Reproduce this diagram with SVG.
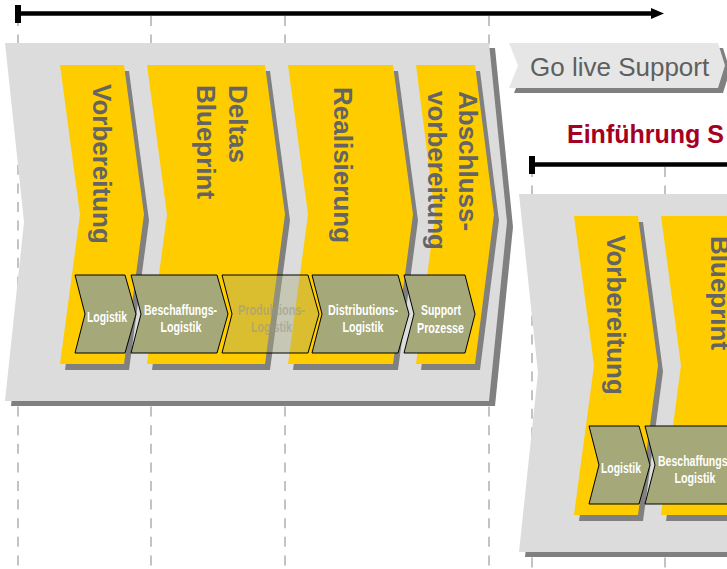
<svg xmlns="http://www.w3.org/2000/svg" xmlns:xlink="http://www.w3.org/1999/xlink" width="727" height="569" viewBox="0 0 727 569">
  <style>
    .dash { stroke: #c3c3c3; stroke-width: 2; stroke-dasharray: 10 8.6; fill: none; }
    .tl { stroke: #000; stroke-width: 4.5; fill: none; }
    .panel { fill: #dcdcdc; }
    .shadow { fill: #808080; }
    .phase { fill: #ffcc00; }
    .ptext { font-family: "Liberation Sans", Arial, sans-serif; font-weight: bold; font-size: 26px; fill: #646464; }
    .proc { fill: #a5a878; stroke: #000; stroke-width: 1; }
    .proc-faded { fill: #a5a878; fill-opacity: 0.4; stroke: #000; stroke-width: 1; }
    .ctext { font-family: "Liberation Sans", Arial, sans-serif; font-weight: bold; font-size: 14px; fill: #ffffff; text-anchor: middle; }
    .ctext-faded { font-family: "Liberation Sans", Arial, sans-serif; font-weight: bold; font-size: 14px; fill: #9a9a86; fill-opacity: 0.6; text-anchor: middle; }
    .golive { fill: #e6e6e6; }
    .gltext { font-family: "Liberation Sans", Arial, sans-serif; font-size: 26px; fill: #5f5f5f; }
    .title { font-family: "Liberation Sans", Arial, sans-serif; font-weight: bold; font-size: 25px; fill: #a50021; }
  </style>
  <defs>
    <marker id="arrow" viewBox="0 0 13 11" refX="0" refY="5.5" markerWidth="13" markerHeight="11" markerUnits="userSpaceOnUse" orient="auto">
      <path d="M0,0 L13,5.5 L0,11 z" fill="#000"/>
    </marker>
  </defs>

  <g id="set1">
    <g id="connectors">
      <line class="dash" x1="18" y1="16" x2="18" y2="569"/>
      <line class="dash" x1="151" y1="16" x2="151" y2="569"/>
      <line class="dash" x1="285" y1="16" x2="285" y2="569"/>
      <line class="dash" x1="489" y1="16" x2="489" y2="569"/>
      <rect x="15" y="5" width="6" height="18" fill="#000"/>
      <line class="tl" x1="18" y1="13.5" x2="651" y2="13.5" marker-end="url(#arrow)"/>
    </g>

    <g id="panel">
      <polygon class="shadow" points="11,48 495,48 513,227 495,406 11,406 30,227"/>
      <polygon class="panel" points="5,43 489,43 507,222 489,401 5,401 24,222"/>
    </g>

    <g id="phase-vorbereitung">
      <polygon class="shadow" points="65,71 129,71 149,220.5 129,370 65,370 85,220.5"/>
      <polygon class="phase" points="60,65 124,65 144,214.5 124,364 60,364 80,214.5"/>
      <text class="ptext" transform="translate(93,84) rotate(90)">Vorbereitung</text>
    </g>

    <g id="phase-deltas-blueprint">
      <polygon class="shadow" points="152,71 270,71 290,220.5 270,370 152,370 172,220.5"/>
      <polygon class="phase" points="147,65 265,65 285,214.5 265,364 147,364 167,214.5"/>
      <text class="ptext" transform="translate(229,85) rotate(90)">Deltas</text>
      <text class="ptext" transform="translate(197,85) rotate(90)">Blueprint</text>
    </g>

    <g id="phase-realisierung">
      <polygon class="shadow" points="293,71 398,71 418,220.5 398,370 293,370 313,220.5"/>
      <polygon class="phase" points="288,65 393,65 413,214.5 393,364 288,364 308,214.5"/>
      <text class="ptext" transform="translate(334,87) rotate(90)">Realisierung</text>
    </g>

    <g id="phase-abschlussvorbereitung">
      <polygon class="shadow" points="421,71 480,71 499,220.5 480,370 421,370 440,220.5"/>
      <polygon class="phase" points="416,65 475,65 494,214.5 475,364 416,364 435,214.5"/>
      <text class="ptext" transform="translate(459,91) rotate(90)">Abschluss-</text>
      <text class="ptext" transform="translate(428,91) rotate(90)">vorbereitung</text>
    </g>

    <g id="proc-logistik">
      <polygon class="proc" points="75,275 125,275 136,314 125,353 75,353 85,314"/>
      <text class="ctext" x="107" y="322" textLength="40" lengthAdjust="spacingAndGlyphs">Logistik</text>
    </g>

    <g id="proc-beschaffungslogistik">
      <polygon class="proc" points="131,275 217,275 228,314 217,353 131,353 141,314"/>
      <text class="ctext" x="180.5" y="315" textLength="73" lengthAdjust="spacingAndGlyphs">Beschaffungs-</text>
      <text class="ctext" x="181" y="332" textLength="41" lengthAdjust="spacingAndGlyphs">Logistik</text>
    </g>

    <g id="proc-produktionslogistik">
      <polygon class="proc-faded" points="222,275 308,275 319,314 308,353 222,353 232,314"/>
      <text class="ctext-faded" x="271.5" y="315" textLength="67" lengthAdjust="spacingAndGlyphs">Produktions-</text>
      <text class="ctext-faded" x="271.5" y="332" textLength="41" lengthAdjust="spacingAndGlyphs">Logistik</text>
    </g>

    <g id="proc-distributionslogistik">
      <polygon class="proc" points="312,275 398,275 409,314 398,353 312,353 322,314"/>
      <text class="ctext" x="363" y="315" textLength="70" lengthAdjust="spacingAndGlyphs">Distributions-</text>
      <text class="ctext" x="363" y="332" textLength="41" lengthAdjust="spacingAndGlyphs">Logistik</text>
    </g>

    <g id="proc-supportprozesse">
      <polygon class="proc" points="404,275 465,275 475,314 465,353 404,353 414,314"/>
      <text class="ctext" x="441" y="315" textLength="40" lengthAdjust="spacingAndGlyphs">Support</text>
      <text class="ctext" x="440.5" y="333" textLength="47" lengthAdjust="spacingAndGlyphs">Prozesse</text>
    </g>
  </g>

  <g id="golive-support">
    <polygon class="shadow" points="514,48 723,48 730,70.5 723,93 514,93 523,70.5"/>
    <polygon class="golive" points="509,43 718,43 725,65.5 718,88 509,88 518,65.5"/>
    <text class="gltext" x="530" y="76">Go live Support</text>
  </g>

  <g id="title-einfuehrung">
    <text class="title" x="567" y="143">Einführung S</text>
  </g>

  <g id="set2">
    <use xlink:href="#set1" href="#set1" transform="translate(514,151)"/>
  </g>
</svg>
